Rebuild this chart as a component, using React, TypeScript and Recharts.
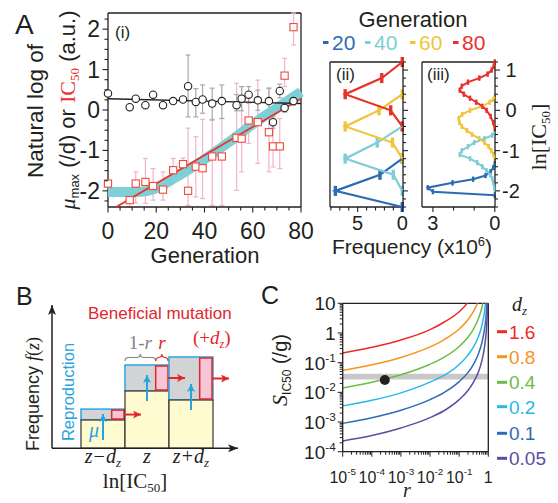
import React from "react";
import {
  ScatterChart,
  Scatter,
  XAxis,
  YAxis,
  ErrorBar,
  ReferenceLine,
  ReferenceArea,
  ReferenceDot,
  LineChart,
  Line,
  BarChart,
  Bar,
} from "recharts";

const SANS = "'Liberation Sans', Arial, Helvetica, sans-serif";
const SERIF = "'Liberation Serif', 'Times New Roman', serif";
const INK = "#231f20";

// ---------- panel A (i): evolution time course ----------
const generations = [0, 9, 11.5, 15.5, 18.7, 22.8, 27, 31.1, 33.2, 36.4, 39.2, 43.2, 47.2, 53.3, 55.4, 58.3, 62.1, 66.7, 68.4, 71.2, 73.2, 76.9];
const muMax = [0.41, 0.07, 0.28, 0.12, 0.38, 0.12, 0.22, 0.26, 0.59, 0.2, 0.26, 0.16, 0.22, 0.12, 0.28, 0.38, 0.24, 0.22, -0.3, 0.47, 0.05, 0.22];
const muErr = [[0, 0], [0, 0], [0, 0], [0, 0], [0, 0], [0, 0], [0, 0], [0, 0], [0.76, 0.77], [0.37, 0.33], [0.34, 0.36], [0.41, 0.38], [0.43, 0.4], [0.14, 0.26], [0.3, 0.3], [0.2, 0.2], [0.25, 0.25], [0.3, 0.32], [0.15, 0.15], [0.17, 0.17], [0.1, 0.1], [0.1, 0.1]];
const ic50 = [-1.82, -2.23, -1.82, -1.78, -1.88, -1.97, -1.49, -1.34, -2.0, -1.4, -1.44, -1.15, -1.15, -0.69, -0.71, -0.26, -0.3, -0.55, -0.9, -0.9, 0.85, 2.05];
const ic50Err = [[0, 0], [0.17, 0.29], [0.48, 0.29], [0.53, 0.58], [0.35, 0.43], [0.26, 0.44], [0.21, 0.29], [0.15, 0.15], [0.36, 1.55], [0.75, 0.74], [0.75, 1.21], [1.21, 0.92], [1.21, 0.94], [1.3, 1.35], [0.82, 1.29], [0.57, 0.43], [1.02, 1.04], [0.98, 1.09], [0.51, 0.73], [0.55, 0.69], [0.27, 0.43], [0.44, 0.35]];
const fitMuGen = [0, 80];
const fitMu = [0.28, 0.16];
const fitIcGen = [3.4, 80];
const fitIc = [-2.4, 0.28];
const bandGen = [0, 8, 14, 18, 22, 26, 30, 40, 50, 60, 70, 80];
const bandVal = [-2.03, -2.03, -2.02, -1.98, -1.88, -1.74, -1.6, -1.22, -0.8, -0.35, 0.05, 0.45];

const genTicks = [0, 5, 10, 15, 20, 25, 30, 35, 40, 45, 50, 55, 60, 65, 70, 75, 80];
const lnTicksA = [-2.25, -2, -1.75, -1.5, -1.25, -1, -0.75, -0.5, -0.25, 0, 0.25, 0.5, 0.75, 1, 1.25, 1.5, 1.75, 2, 2.25];

// ---------- panel A (ii) / (iii): distributions ----------
const genLabels = ["20", "40", "60", "80"];
const genColors = ["#2b6cb5", "#7fcdd6", "#f0c53c", "#e8312a"];

const hist20Y = [-2.4, -2.0, -1.6, -1.2];
const hist20F = [0, 7.5, 2.5, 0];
const hist40Y = [-2.0, -1.6, -1.2, -0.8, -0.4];
const hist40F = [0, 1.0, 6.4, 2.8, 0];
const hist60Y = [-1.2, -0.8, -0.4, 0, 0.4];
const hist60F = [0, 1.1, 6.4, 2.6, 0];
const hist80Y = [-0.4, 0, 0.4, 0.8, 1.2];
const hist80F = [0, 1.3, 6.4, 2.3, 0];
const HIST_ERR = 0.08;

const sim20Y = [-2.11, -2.02, -1.92, -1.8, -1.71, -1.62, -1.52, -1.42, -1.32];
const sim20F = [0, 3.0, 3.25, 2.05, 1.05, 0.45, 0.2, 0.07, 0];
const sim40Y = [-2.03, -1.9, -1.8, -1.7, -1.6, -1.5, -1.4, -1.3, -1.2, -1.1, -1.0, -0.9, -0.8, -0.7, -0.62, -0.54];
const sim40F = [0, 0.03, 0.07, 0.12, 0.22, 0.4, 0.6, 0.85, 1.2, 1.7, 1.6, 1.3, 1.0, 0.5, 0.13, 0];
const sim60Y = [-1.2, -1.1, -1.0, -0.9, -0.8, -0.7, -0.6, -0.5, -0.4, -0.3, -0.2, -0.1, 0, 0.1, 0.2, 0.27, 0.33];
const sim60F = [0, 0.06, 0.17, 0.3, 0.5, 0.75, 1.1, 1.35, 1.6, 1.72, 1.75, 1.58, 1.2, 0.62, 0.25, 0.08, 0];
const sim80Y = [-0.45, -0.3, -0.15, 0, 0.1, 0.2, 0.3, 0.4, 0.5, 0.6, 0.7, 0.8, 0.9, 1.0, 1.1, 1.2];
const sim80F = [0, 0.08, 0.2, 0.4, 0.6, 0.9, 1.2, 1.5, 1.7, 1.6, 1.3, 0.75, 0.35, 0.15, 0.05, 0];
const SIM_ERR = 0.01;

const lnTicksB = [-2.4, -2.2, -2, -1.8, -1.6, -1.4, -1.2, -1, -0.8, -0.6, -0.4, -0.2, 0, 0.2, 0.4, 0.6, 0.8, 1, 1.2];
const freqTicksII = [0, 1, 2, 3, 4, 5, 6, 7, 8];
const freqTicksIII = [0, 1, 2, 3];

// ---------- panel B: schematic bins ----------
const bCats = ["z−d_z", "z", "z+d_z"];
const bBase = [28.3, 57.3, 48.3];
const bGrow = [10.9, 26, 43];
const R_FRAC = 0.28;

// ---------- panel C: S_IC50 vs r ----------
const rGrid = [1e-5, 1e-4, 1e-3, 1e-2, 0.03, 0.1, 0.2, 0.3, 0.45, 0.6, 0.75, 0.85, 0.92, 0.96];
const sDz16 = [0.21, 0.33, 0.58, 1.3, 2.3, 5.2, 10.7, 19];
const sDz08 = [0.054, 0.085, 0.15, 0.34, 0.59, 1.36, 2.8, 5.0, 11.3];
const sDz04 = [0.014, 0.022, 0.039, 0.088, 0.15, 0.35, 0.72, 1.28, 2.9, 7.1, 22];
const sDz02 = [0.0035, 0.0054, 0.0096, 0.022, 0.037, 0.087, 0.18, 0.32, 0.72, 1.76, 5.6, 17];
const sDz01 = [0.0009, 0.0014, 0.0025, 0.0057, 0.0098, 0.023, 0.046, 0.083, 0.19, 0.46, 1.45, 4.5, 17];
const sDz005 = [0.00023, 0.00035, 0.00063, 0.0014, 0.0024, 0.0057, 0.0116, 0.021, 0.047, 0.115, 0.36, 1.14, 4.3, 18];
const dzLabels = ["1.6", "0.8", "0.4", "0.2", "0.1", "0.05"];
const dzColors = ["#ee2a24", "#f7941d", "#6cbd45", "#27b7ea", "#2e6db4", "#5b4ea2"];
const dzSeries = [sDz16, sDz08, sDz04, sDz02, sDz01, sDz005];
const bandS = [0.027, 0.042];
const markR = 2.8e-4;
const markS = 0.026;

const logTicks = (lo: number, hi: number) => {
  const out: number[] = [];
  for (let e = lo; e < hi; e++) for (let m = 1; m < 10; m++) out.push(m * Math.pow(10, e));
  out.push(Math.pow(10, hi));
  return out;
};
const rTicks = logTicks(-5, 0);
const sTicks = logTicks(-4, 1);

// ---------- tables ----------
const pts = (xs: number[], ys: number[], es?: any[] | number) =>
  xs.map((x, i) => ({ x, y: ys[i], e: Array.isArray(es) ? es[i] : es ?? 0 }));

const muRows = pts(generations, muMax, muErr);
const icRows = pts(generations, ic50, ic50Err);
const bandRows = pts(bandGen, bandVal);
const fitMuRows = pts(fitMuGen, fitMu);
const fitIcRows = pts(fitIcGen, fitIc);

const histSeries = [
  pts(hist20F, hist20Y, HIST_ERR),
  pts(hist40F, hist40Y, HIST_ERR),
  pts(hist60F, hist60Y, HIST_ERR),
  pts(hist80F, hist80Y, HIST_ERR),
];
const simSeries = [
  pts(sim20F, sim20Y, SIM_ERR),
  pts(sim40F, sim40Y, SIM_ERR),
  pts(sim60F, sim60Y, SIM_ERR),
  pts(sim80F, sim80Y, SIM_ERR),
];

const bRows = bCats.map((cat, i) => ({ cat, base: bBase[i], grow: bGrow[i] }));

const cRows = rGrid.map((r, i) => {
  const row: any = { r };
  dzSeries.forEach((s, k) => {
    if (i < s.length) row["s" + k] = s[i];
  });
  return row;
});

// ---------- marks & ticks ----------
const NoMark = () => <g />;
const CircleMark = (p: any) => <circle cx={p.cx} cy={p.cy} r={3.7} fill="#fff" stroke={INK} strokeWidth={1.1} />;
const SquareMark = (p: any) => (
  <rect x={p.cx - 3.6} y={p.cy - 3.6} width={7.2} height={7.2} fill="#fff" stroke="#ef4a3c" strokeWidth={1.1} />
);

const isInt = (v: number) => Math.abs(v - Math.round(v)) < 1e-6;
const axisStyle = { stroke: INK, strokeWidth: 1.3 };

const GenTick = (p: any) => {
  const { x, y, payload } = p;
  const v = payload.value;
  const major = v % 20 === 0;
  return (
    <g>
      <line x1={x} x2={x} y1={y} y2={y + (major ? 5.5 : 3.5)} stroke={INK} strokeWidth={1.1} />
      {major && (
        <text x={x} y={y + 32} textAnchor="middle" fontSize={23} fontFamily={SANS} fill={INK}>
          {v}
        </text>
      )}
    </g>
  );
};

const LeftLnTick = (p: any) => {
  const { x, y, payload } = p;
  const v = payload.value;
  const major = isInt(v);
  return (
    <g>
      <line x1={x} x2={x - (major ? 5.5 : 3.5)} y1={y} y2={y} stroke={INK} strokeWidth={1.1} />
      {major && (
        <text x={x - 8} y={y + 8} textAnchor="end" fontSize={23} fontFamily={SANS} fill={INK}>
          {v}
        </text>
      )}
    </g>
  );
};

const makeRightTick = (labels: boolean) => (p: any) => {
  const { x, y, payload } = p;
  const v = payload.value;
  const major = isInt(v);
  return (
    <g>
      <line x1={x} x2={x + (major ? 5 : 3)} y1={y} y2={y} stroke={INK} strokeWidth={1.1} />
      {labels && major && (
        <text x={x + 16} y={y + 7} textAnchor="middle" fontSize={20} fontFamily={SANS} fill={INK}>
          {Math.round(v)}
        </text>
      )}
    </g>
  );
};
const RightTickPlain = makeRightTick(false);
const RightTickLabel = makeRightTick(true);

const makeFreqTick = (labelled: number[]) => (p: any) => {
  const { x, y, payload } = p;
  const v = payload.value;
  const lab = labelled.includes(v);
  return (
    <g>
      <line x1={x} x2={x} y1={y} y2={y + (lab ? 5 : 3.5)} stroke={INK} strokeWidth={1.1} />
      {lab && (
        <text x={x} y={y + 23} textAnchor="middle" fontSize={20} fontFamily={SANS} fill={INK}>
          {v}
        </text>
      )}
    </g>
  );
};
const FreqTickII = makeFreqTick([0, 5]);
const FreqTickIII = makeFreqTick([0, 3]);

const BTick = (p: any) => {
  const { x, y, payload } = p;
  const [main, sub] = String(payload.value).split("_");
  return (
    <text x={x} y={y + 15} textAnchor="middle" fontSize={20} fontFamily={SERIF} fontStyle="italic" fill={INK}>
      {main}
      {sub && (
        <tspan dy={4} fontSize={13}>
          {sub}
        </tspan>
      )}
    </text>
  );
};

const powLabel = (v: number) => Math.round(Math.log10(v));
const isPow = (v: number) => Math.abs(Math.log10(v) - Math.round(Math.log10(v))) < 1e-9;

const PowText = ({ x, y, v, anchor, size }: any) => {
  const e = powLabel(v);
  return (
    <text x={x} y={y} textAnchor={anchor} fontSize={size} fontFamily={SANS} fill={INK}>
      {e === 0 ? "1" : "10"}
      {e !== 0 && e !== 1 && (
        <tspan dy={-8} fontSize={size * 0.62}>
          {e}
        </tspan>
      )}
    </text>
  );
};

const STick = (p: any) => {
  const { x, y, payload } = p;
  const v = payload.value;
  const major = isPow(v);
  return (
    <g>
      <line x1={x} x2={x - (major ? 5 : 3)} y1={y} y2={y} stroke={INK} strokeWidth={1} />
      {major && <PowText x={x - 7} y={y + 7} v={v} anchor="end" size={19} />}
    </g>
  );
};

const RTick = (p: any) => {
  const { x, y, payload } = p;
  const v = payload.value;
  const major = isPow(v);
  return (
    <g>
      <line x1={x} x2={x} y1={y} y2={y + (major ? 5 : 3)} stroke={INK} strokeWidth={1} />
      {major && <PowText x={x} y={y + 31} v={v} anchor="middle" size={16} />}
    </g>
  );
};

// panel B bins: yellow (existing) + grey (new growth) + pink (mutants)
const BinShape = (p: any) => {
  const { x, y, width, height, payload } = p;
  const gh = (height * payload.grow) / payload.base;
  const gy = y - gh;
  const pw = width * R_FRAC;
  return (
    <g>
      <rect x={x} y={gy} width={width} height={gh} fill="#d1d3d4" stroke="#39a9e0" strokeWidth={1.6} />
      <rect x={x} y={y} width={width} height={height} fill="#fffbd0" stroke="#333" strokeWidth={1.2} />
      <rect x={x + width - pw - 1} y={gy + 1} width={pw} height={gh - 2} fill="#f7c6d6" stroke="#e2262b" strokeWidth={1.5} />
    </g>
  );
};

const brace = (x1: number, x2: number, yb: number, h: number) => {
  const m = (x1 + x2) / 2;
  const q = h / 2;
  return `M${x1},${yb} Q${x1},${yb - q} ${x1 + q},${yb - q} L${m - q},${yb - q} Q${m},${yb - q} ${m},${yb - h} Q${m},${yb - q} ${m + q},${yb - q} L${x2 - q},${yb - q} Q${x2},${yb - q} ${x2},${yb}`;
};

const ArrowShape = (p: any) => {
  const { x, y, width, height, index } = p;
  const top = y + height;
  const tip = top - Math.min(16, height - 5);
  const pw = width * R_FRAC;
  const px = x + width - pw - 1;
  return (
    <g>
      <line x1={x + width / 2} x2={x + width / 2} y1={tip + 26} y2={tip} stroke="#2aa3dd" strokeWidth={2} markerEnd="url(#arrowBlue)" />
      <line x1={x + width - 1} x2={x + width + 16} y1={y + height / 2} y2={y + height / 2} stroke="#e2262b" strokeWidth={2} markerEnd="url(#arrowRed)" />
      {index === 1 && (
        <g>
          <path d={brace(x, px, y - 4, 7)} fill="none" stroke="#808285" strokeWidth={1.2} />
          <path d={brace(px, x + width - 1, y - 4, 7)} fill="none" stroke="#e2262b" strokeWidth={1.2} />
          <text x={(x + px) / 2} y={y - 16} textAnchor="middle" fontSize={19} fontFamily={SERIF} fill="#808285">
            1-<tspan fontStyle="italic">r</tspan>
          </text>
          <text x={px + pw / 2} y={y - 16} textAnchor="middle" fontSize={19} fontFamily={SERIF} fontStyle="italic" fill="#e2262b">
            r
          </text>
        </g>
      )}
    </g>
  );
};

// ---------- panels ----------
const PanelAi = () => (
  <ScatterChart width={320} height={250} margin={{ top: 13, right: 19, bottom: 0, left: 0 }}>
    <XAxis type="number" dataKey="x" domain={[0, 80]} ticks={genTicks} interval={0} height={43} tickSize={0} tickMargin={0} tickLine={false} axisLine={axisStyle} tick={GenTick} />
    <YAxis type="number" dataKey="y" domain={[-2.4, 2.4]} ticks={lnTicksA} interval={0} width={108} tickSize={0} tickMargin={0} tickLine={false} axisLine={axisStyle} tick={LeftLnTick} />
    <ReferenceLine y={2.4} stroke={INK} strokeWidth={1.3} />
    <ReferenceLine x={80} stroke={INK} strokeWidth={1.3} />
    <Scatter data={bandRows} line={{ stroke: "#7fcfd7", strokeWidth: 10 }} lineJointType="monotoneX" shape={NoMark} isAnimationActive={false} />
    <Scatter data={fitIcRows} line={{ stroke: "#e8312a", strokeWidth: 1.8 }} shape={NoMark} isAnimationActive={false} />
    <Scatter data={fitMuRows} line={{ stroke: INK, strokeWidth: 1.4 }} shape={NoMark} isAnimationActive={false} />
    <Scatter data={icRows} shape={SquareMark} isAnimationActive={false}>
      <ErrorBar dataKey="e" direction="y" width={2.5} stroke="#f0b4cc" strokeWidth={1.2} isAnimationActive={false} />
    </Scatter>
    <Scatter data={muRows} shape={CircleMark} isAnimationActive={false}>
      <ErrorBar dataKey="e" direction="y" width={2.5} stroke="#a7a9ac" strokeWidth={1.2} isAnimationActive={false} />
    </Scatter>
  </ScatterChart>
);

const DistPanel = ({ width, yWidth, xMax, xTicks, xTick, yTick, series, lineW, capW }: any) => (
  <ScatterChart width={width} height={190} margin={{ top: 12, right: 0, bottom: 0, left: 10 }}>
    <XAxis type="number" dataKey="x" domain={[0, xMax]} reversed ticks={xTicks} interval={0} height={33} tickSize={0} tickMargin={0} tickLine={false} axisLine={axisStyle} tick={xTick} />
    <YAxis type="number" dataKey="y" orientation="right" domain={[-2.4, 1.2]} ticks={lnTicksB} interval={0} width={yWidth} tickSize={0} tickMargin={0} tickLine={false} axisLine={axisStyle} tick={yTick} />
    <ReferenceLine y={1.2} stroke={INK} strokeWidth={1.3} />
    <ReferenceLine x={xMax} stroke={INK} strokeWidth={1.3} />
    {series.map((rows: any, k: number) => (
      <Scatter key={k} data={rows} line={{ stroke: genColors[k], strokeWidth: lineW }} shape={NoMark} isAnimationActive={false}>
        <ErrorBar dataKey="e" direction="x" width={capW} stroke={genColors[k]} strokeWidth={2} isAnimationActive={false} />
      </Scatter>
    ))}
  </ScatterChart>
);

const PanelB = () => (
  <BarChart width={245} height={185} data={bRows} margin={{ top: 15, right: 7, bottom: 0, left: 0 }} barCategoryGap={0} barGap={0}>
    <XAxis dataKey="cat" type="category" height={26.7} padding={{ left: 29, right: 25 }} interval={0} tickSize={0} tickMargin={0} tickLine={false} axisLine={{ stroke: INK, strokeWidth: 1.5, markerEnd: "url(#arrowInk)" }} tick={BTick} />
    <YAxis type="number" domain={[0, 143.3]} width={52} tick={false} tickLine={false} axisLine={{ stroke: INK, strokeWidth: 1.5, markerStart: "url(#arrowInk)" }} />
    <Bar dataKey="base" stackId="s" shape={BinShape} isAnimationActive={false} />
    <Bar dataKey="grow" stackId="s" shape={ArrowShape} isAnimationActive={false} />
  </BarChart>
);

const PanelC = () => (
  <LineChart width={230} height={205} data={cRows} margin={{ top: 13.3, right: 11.7, bottom: 0, left: 0 }}>
    <XAxis type="number" dataKey="r" scale="log" domain={[1e-5, 1]} allowDataOverflow ticks={rTicks} interval={0} height={43.3} tickSize={0} tickMargin={0} tickLine={false} axisLine={axisStyle} tick={RTick} />
    <YAxis type="number" scale="log" domain={[1e-4, 10]} allowDataOverflow ticks={sTicks} interval={0} width={72.7} tickSize={0} tickMargin={0} tickLine={false} axisLine={axisStyle} tick={STick} />
    <ReferenceArea y1={bandS[0]} y2={bandS[1]} fill="#c8c8c8" fillOpacity={1} stroke="none" />
    <ReferenceLine y={10} stroke={INK} strokeWidth={1.3} />
    <ReferenceLine x={1} stroke={INK} strokeWidth={1.3} />
    {dzSeries.map((_, k) => (
      <Line key={k} dataKey={"s" + k} type="monotone" stroke={dzColors[k]} strokeWidth={1.5} dot={false} isAnimationActive={false} />
    ))}
    <ReferenceDot x={markR} y={markS} r={5} fill={INK} stroke="none" />
  </LineChart>
);

// ---------- text overlay ----------
const Overlay = () => (
  <svg width={558} height={503} style={{ position: "absolute", left: 0, top: 0, pointerEvents: "none", overflow: "visible" }}>
    <defs>
      <marker id="arrowInk" viewBox="0 0 10 8" refX="10" refY="4" markerWidth="10" markerHeight="8" markerUnits="userSpaceOnUse" orient="auto-start-reverse">
        <path d="M0,0 L10,4 L0,8 L2.5,4 z" fill={INK} />
      </marker>
      <marker id="arrowRed" viewBox="0 0 8 8" refX="8" refY="4" markerWidth="8" markerHeight="8" markerUnits="userSpaceOnUse" orient="auto">
        <path d="M0,0 L8,4 L0,8 L2,4 z" fill="#e2262b" />
      </marker>
      <marker id="arrowBlue" viewBox="0 0 8 8" refX="8" refY="4" markerWidth="8" markerHeight="8" markerUnits="userSpaceOnUse" orient="auto">
        <path d="M0,0 L8,4 L0,8 L2,4 z" fill="#2aa3dd" />
      </marker>
    </defs>
    <g fontFamily={SANS} fill={INK}>
      {/* panel A */}
      <text x={15} y={34} fontSize={28}>A</text>
      <text x={115} y={38} fontSize={17}>(i)</text>
      <text x={336} y={80} fontSize={17}>(ii)</text>
      <text x={427} y={80} fontSize={17}>(iii)</text>
      <text transform="rotate(-90)" x={-111} y={43} textAnchor="middle" fontSize={22.5}>Natural log of</text>
      <text transform="rotate(-90)" x={-110} y={75} textAnchor="middle" fontSize={22}>
        <tspan fontFamily={SERIF} fontStyle="italic">μ</tspan>
        <tspan dy={4} fontSize={13}>max</tspan>
        <tspan dy={-4}> (/d) or </tspan>
        <tspan fontFamily={SERIF} fill="#e8312a">IC</tspan>
        <tspan fontFamily={SERIF} fill="#e8312a" dy={4} fontSize={13}>50</tspan>
        <tspan dy={-4}> (a.u.)</tspan>
      </text>
      <text x={205} y={263} textAnchor="middle" fontSize={22}>Generation</text>
      <text x={413} y={27} textAnchor="middle" fontSize={22}>Generation</text>
      {genLabels.map((g, k) => {
        const x0 = [323, 365, 410, 453][k];
        return (
          <g key={g}>
            <rect x={x0} y={41} width={5.5} height={3} fill={genColors[k]} />
            <text x={x0 + 9} y={50} fontSize={21} fill={genColors[k]}>{g}</text>
          </g>
        );
      })}
      <text x={412} y={254} textAnchor="middle" fontSize={21}>
        Frequency (x10<tspan dy={-8} fontSize={13}>6</tspan>
        <tspan dy={8}>)</tspan>
      </text>
      <text transform="rotate(-90)" x={-137} y={546} textAnchor="middle" fontSize={22} fontFamily={SERIF}>
        ln[IC<tspan dy={4} fontSize={13}>50</tspan>
        <tspan dy={-4}>]</tspan>
      </text>

      {/* panel B */}
      <text x={16} y={305} fontSize={25}>B</text>
      <text x={88} y={319} fontSize={17} fill="#e2262b">Beneficial mutation</text>
      <text x={193} y={344} fontSize={19} fontFamily={SERIF} fill="#e2262b">
        (+<tspan fontStyle="italic">d</tspan>
        <tspan fontStyle="italic" dy={4} fontSize={12}>z</tspan>
        <tspan dy={-4}>)</tspan>
      </text>
      <text transform="rotate(-90)" x={-394} y={39} textAnchor="middle" fontSize={18}>
        Frequency <tspan fontFamily={SERIF} fontStyle="italic">f</tspan>
        <tspan fontFamily={SERIF}>(</tspan>
        <tspan fontFamily={SERIF} fontStyle="italic">z</tspan>
        <tspan fontFamily={SERIF}>)</tspan>
      </text>
      <text transform="rotate(-90)" x={-392} y={74} textAnchor="middle" fontSize={16.5} fill="#2aa3dd">Reproduction</text>
      <text x={89} y={437} fontSize={20} fontFamily={SERIF} fontStyle="italic" fill="#2aa3dd">μ</text>
      <text x={135} y={488} textAnchor="middle" fontSize={21} fontFamily={SERIF}>
        ln[IC<tspan dy={4} fontSize={13}>50</tspan>
        <tspan dy={-4}>]</tspan>
      </text>

      {/* panel C */}
      <text x={261} y={304} fontSize={25}>C</text>
      <text transform="rotate(-90)" x={-370} y={287} textAnchor="middle" fontSize={20}>
        <tspan fontFamily={SERIF} fontStyle="italic" fontSize={22}>S</tspan>
        <tspan dy={4} fontSize={12}>IC50</tspan>
        <tspan dy={-4}> (/g)</tspan>
      </text>
      <text x={407} y={497} textAnchor="middle" fontSize={20} fontFamily={SERIF} fontStyle="italic">r</text>
      <text x={512} y={311} fontSize={20} fontFamily={SERIF} fontStyle="italic">
        d<tspan dy={4} fontSize={13}>z</tspan>
      </text>
      {dzLabels.map((d, k) => {
        const cy = [331.7, 356.7, 382.3, 406.7, 433.3, 458.3][k];
        return (
          <g key={d}>
            <rect x={497} y={cy - 1.5} width={10} height={3} fill={dzColors[k]} />
            <text x={509} y={cy + 7} fontSize={19} fill={dzColors[k]}>{d}</text>
          </g>
        );
      })}
    </g>
  </svg>
);

export default function App() {
  return (
    <div style={{ position: "absolute", left: 0, top: 0, width: 558, height: 503, background: "#fff", overflow: "hidden", fontFamily: SANS }}>
      <div style={{ position: "absolute", left: 0, top: 0 }}>
        <PanelAi />
      </div>
      <div style={{ position: "absolute", left: 320, top: 50 }}>
        <DistPanel width={100} yWidth={17} xMax={8.1} xTicks={freqTicksII} xTick={FreqTickII} yTick={RightTickPlain} series={histSeries} lineW={2.2} capW={5} />
      </div>
      <div style={{ position: "absolute", left: 412, top: 50 }}>
        <DistPanel width={146} yWidth={63} xMax={3.53} xTicks={freqTicksIII} xTick={FreqTickIII} yTick={RightTickLabel} series={simSeries} lineW={2} capW={2.5} />
      </div>
      <div style={{ position: "absolute", left: 0, top: 290 }}>
        <PanelB />
      </div>
      <div style={{ position: "absolute", left: 270, top: 290 }}>
        <PanelC />
      </div>
      <Overlay />
    </div>
  );
}
